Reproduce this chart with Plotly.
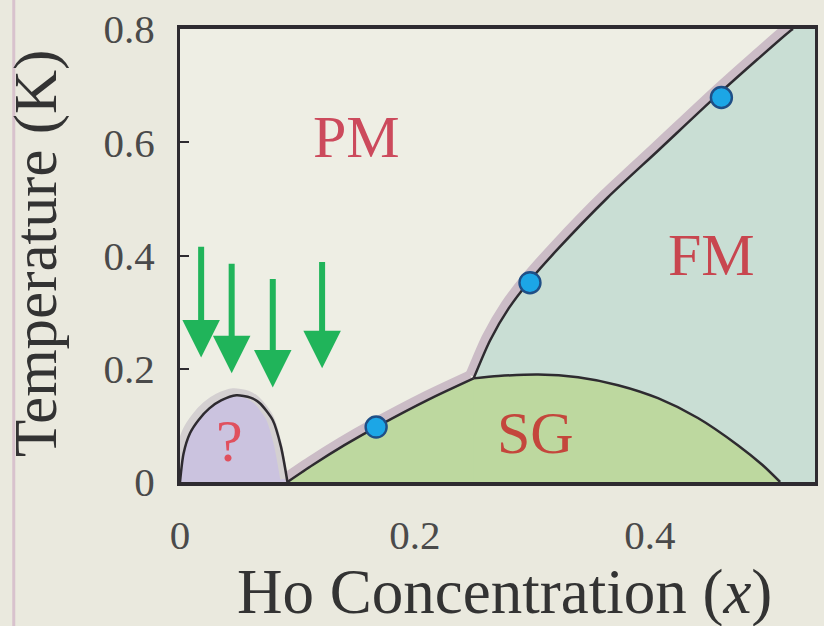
import plotly.graph_objects as go

# ---- phase boundaries: temperature (K) versus Ho concentration x ----
# low-concentration dome ("?") phase
dome_x = [0.0, 0.003, 0.0085, 0.016, 0.025, 0.035, 0.048, 0.060, 0.068, 0.079, 0.086, 0.0915]
dome_T = [0.0, 0.050, 0.086, 0.110, 0.130, 0.144, 0.153, 0.149, 0.139, 0.109, 0.062, 0.0]

# paramagnetic boundary below the multicritical point (PM / SG)
pm_low_x = [0.0915, 0.113, 0.140, 0.167, 0.212, 0.250]
pm_low_T = [0.0, 0.030, 0.065, 0.097, 0.146, 0.183]

# paramagnetic boundary above the multicritical point (PM / FM)
pm_high_x = [0.250, 0.264, 0.280, 0.298, 0.322, 0.364, 0.407, 0.458, 0.492, 0.5195, 0.522]
pm_high_T = [0.183, 0.250, 0.307, 0.356, 0.412, 0.502, 0.585, 0.684, 0.747, 0.7965, 0.800]

# spin-glass dome top (SG / FM)
sg_x = [0.250, 0.271, 0.305, 0.339, 0.373, 0.407, 0.441, 0.475, 0.496, 0.511]
sg_T = [0.183, 0.187, 0.190, 0.185, 0.171, 0.148, 0.113, 0.065, 0.030, 0.0]

# measured transition temperatures
meas_x = [0.167, 0.298, 0.461]
meas_T = [0.097, 0.352, 0.679]

# concentrations marked by arrows (arrow tail / head temperatures)
arrow_x = [0.018, 0.044, 0.079, 0.121]
arrow_top = [0.418, 0.388, 0.361, 0.391]
arrow_tip = [0.220, 0.192, 0.167, 0.201]

# phase names
phase_names = ["PM", "FM", "SG", "?"]

x_ticks = [0, 0.2, 0.4]
x_tick_text = ["0", "0.2", "0.4"]
y_ticks = [0, 0.2, 0.4, 0.6, 0.8]
y_tick_text = ["0", "0.2", "0.4", "0.6", "0.8"]

# ---- styling ----
X_MAX = 0.5407
T_MAX = 0.8
SERIF = "Liberation Serif, Times New Roman, serif"
LINE_DARK = "#2e2b30"
HALO = "#cbbcc6"
FM_FILL = "#c9ded4"
SG_FILL = "#bdd89f"
Q_FILL = "#cbc3df"
ARROW_GREEN = "#20b45a"
SMOOTH = 0.7
label_pos = {"PM": (0.150, 0.609), "FM": (0.4525, 0.401), "SG": (0.3025, 0.086), "?": (0.0424, 0.072)}
label_color = {"PM": "#cc4a5c", "FM": "#c8464f", "SG": "#c4463c", "?": "#e0505e"}

fig = go.Figure()

# FM region: everything under the PM/FM line out to the right edge
fig.add_trace(go.Scatter(
    x=pm_high_x + [X_MAX * 1.2], y=pm_high_T + [T_MAX],
    mode="lines", line=dict(width=0, shape="spline", smoothing=SMOOTH),
    fill="tozeroy", fillcolor=FM_FILL, hoverinfo="skip", showlegend=False))

# SG region; the lower piece runs one step past the multicritical point so
# the two fills overlap instead of leaving a seam
fig.add_trace(go.Scatter(
    x=pm_low_x + sg_x[1:2], y=pm_low_T + sg_T[1:2], mode="lines",
    line=dict(width=0, shape="spline", smoothing=SMOOTH),
    fill="tozeroy", fillcolor=SG_FILL, hoverinfo="skip", showlegend=False))
fig.add_trace(go.Scatter(
    x=sg_x, y=sg_T, mode="lines", line=dict(width=0, shape="spline", smoothing=SMOOTH),
    fill="tozeroy", fillcolor=SG_FILL, hoverinfo="skip", showlegend=False))

# "?" region
fig.add_trace(go.Scatter(
    x=dome_x, y=dome_T, mode="lines", line=dict(width=0, shape="spline", smoothing=SMOOTH),
    fill="tozeroy", fillcolor=Q_FILL, hoverinfo="skip", showlegend=False))

# soft halo on the paramagnetic side of the boundaries
dx_h, dT_h = -0.0028, 0.0055
for xs, ts, col, w in ((pm_low_x, pm_low_T, HALO, 10), (pm_high_x, pm_high_T, HALO, 10),
                       (dome_x, dome_T, "#d4d0d1", 8)):
    fig.add_trace(go.Scatter(
        x=[v + dx_h for v in xs], y=[v + dT_h for v in ts], mode="lines",
        line=dict(width=w, color=col, shape="spline", smoothing=SMOOTH),
        hoverinfo="skip", showlegend=False))

# boundary lines
for xs, ts in ((dome_x, dome_T), (pm_low_x, pm_low_T), (pm_high_x, pm_high_T), (sg_x, sg_T)):
    fig.add_trace(go.Scatter(
        x=xs, y=ts, mode="lines",
        line=dict(width=2.5, color=LINE_DARK, shape="spline", smoothing=SMOOTH),
        hoverinfo="skip", showlegend=False))

# measured points
fig.add_trace(go.Scatter(
    x=meas_x, y=meas_T, mode="markers",
    marker=dict(size=21, color="#1ca6e6", line=dict(width=2.4, color="#1f4f86")),
    hoverinfo="skip", showlegend=False))

annotations = []

# arrows marking the studied concentrations
for xa, t0, t1 in zip(arrow_x, arrow_top, arrow_tip):
    annotations.append(dict(
        x=xa, y=t1, ax=xa, ay=t0, xref="x", yref="y", axref="x", ayref="y",
        text="", showarrow=True, arrowhead=2, arrowsize=1.25, arrowwidth=6,
        arrowcolor=ARROW_GREEN, standoff=0))

# phase labels
for name in phase_names:
    px_, pt_ = label_pos[name]
    annotations.append(dict(
        x=px_, y=pt_, xref="x", yref="y", text=name, showarrow=False,
        font=dict(family=SERIF, size=60, color=label_color[name]),
        xanchor="center", yanchor="middle"))

# axis titles
annotations.append(dict(
    x=-0.228, y=0.504, xref="paper", yref="paper", text="Temperature (K)",
    textangle=-90, showarrow=False, xanchor="center", yanchor="middle",
    font=dict(family=SERIF, size=61, color="#333333")))
annotations.append(dict(
    x=0.511, y=-0.242, xref="paper", yref="paper",
    text="Ho Concentration (<i>x</i>)", showarrow=False,
    xanchor="center", yanchor="middle",
    font=dict(family=SERIF, size=63, color="#333333")))

fig.update_layout(
    width=824, height=626,
    margin=dict(l=180, r=6, t=28, b=144),
    paper_bgcolor="#eae9de",
    plot_bgcolor="#eeeee4",
    showlegend=False,
    annotations=annotations,
    shapes=[dict(type="line", xref="paper", yref="paper",
                 x0=-0.2618, x1=-0.2618, y0=-0.32, y1=1.07,
                 line=dict(color="#d8c2cd", width=3), layer="below")],
)

fig.update_xaxes(
    range=[0, X_MAX], tickvals=x_ticks, ticktext=x_tick_text,
    showgrid=False, zeroline=False, showline=True, mirror=True,
    linecolor=LINE_DARK, linewidth=4, ticks="",
    ticklabelstandoff=14,
    tickfont=dict(family=SERIF, size=41, color="#4a4a4a"))
fig.update_yaxes(
    range=[0, T_MAX], tickvals=y_ticks, ticktext=y_tick_text,
    showgrid=False, zeroline=False, showline=True, mirror=True,
    linecolor=LINE_DARK, linewidth=3, ticks="inside", ticklen=9, tickwidth=2,
    tickcolor=LINE_DARK, ticklabelstandoff=14,
    tickfont=dict(family=SERIF, size=41, color="#4a4a4a"))

fig.write_html("out.html")
